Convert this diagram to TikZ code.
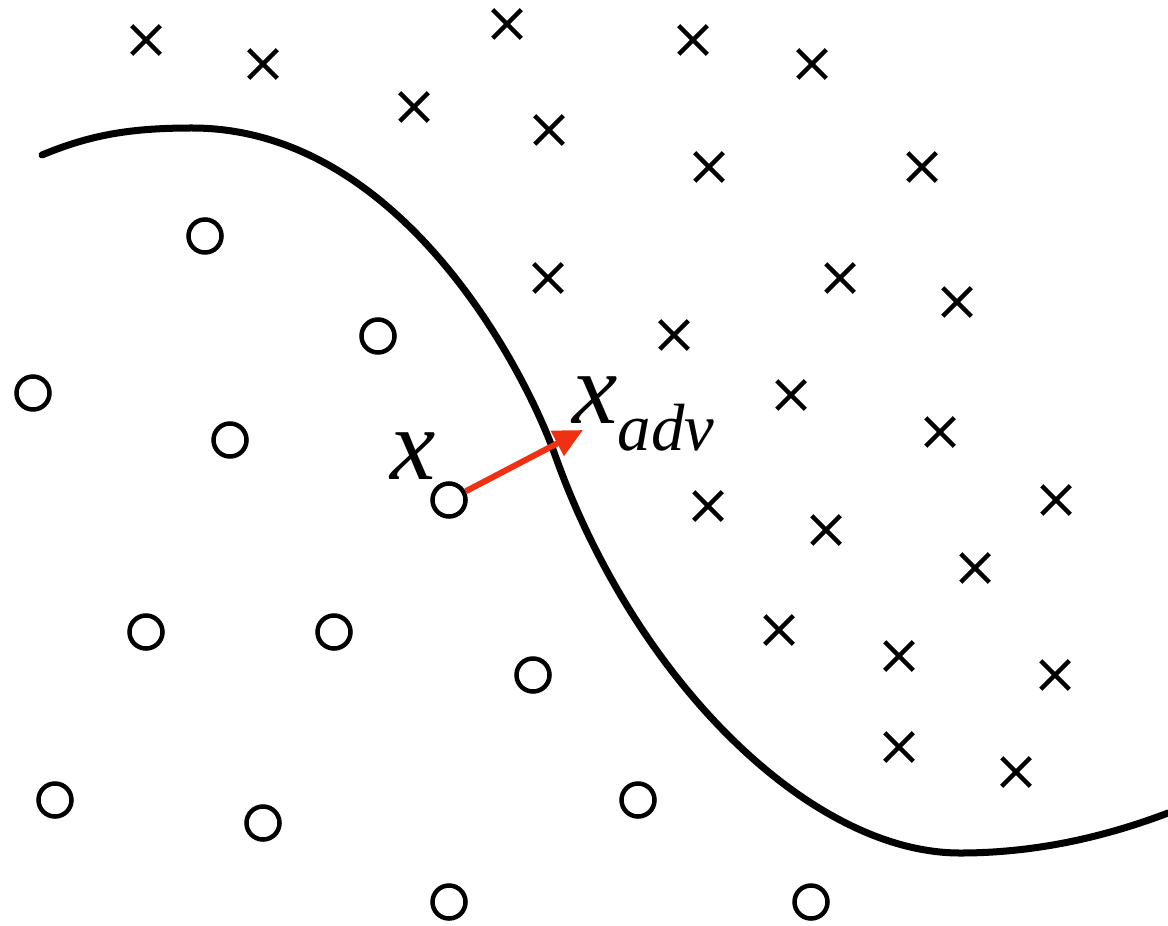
\documentclass[tikz,border=0pt]{standalone}
\usepackage{fontspec}
\setmainfont{Liberation Serif}
\usetikzlibrary{shapes.misc,arrows.meta}
\definecolor{advred}{RGB}{240,48,18}
\begin{document}
\begin{tikzpicture}[x=0.01cm,y=-0.01cm,
  pt/.style={circle,draw=black,line width=0.045cm,minimum size=0.33cm,inner sep=0pt},
  xmark/.style={cross out,draw=black,line width=0.045cm,minimum size=0.24cm,inner sep=0pt},
  boundary/.style={line width=0.07cm,line cap=round},
  advarrow/.style={draw=advred,line width=0.06cm,-{Triangle[length=0.29cm,width=0.27cm]}},
  lbl/.style={inner sep=0pt,font=\fontsize{29}{30}\selectfont\itshape}]
\useasboundingbox (0,0) rectangle (1168,925);
% decision boundary
\draw[boundary] (42,155) .. controls (90,135) and (130,128) .. (192,128)
  .. controls (400,128) and (525,370) .. (555,455)
  .. controls (635,680) and (810,853) .. (960,853)
  .. controls (1040,853) and (1110,835) .. (1168,813);
% circles
\foreach \p [count=\i] in {(205,236),(378,336),(33,393),(230,440),(449,500),(146,632),(334,632),(533,675),(55,800),(263,823),(638,800),(449,902),(811,902)}
  \node[pt] (o\i) at \p {};
% crosses
\foreach \p [count=\i] in {(146,40),(263,64),(507,24),(693,40),(812,64),(414,107),(549,130),(709,167),(922,167),(548,278),(840,278),(957,302),(674,335),(791,395),(940,432),(708,506),(826,530),(1056,500),(975,568),(779,630),(899,656),(1055,675),(899,747),(1016,772)}
  \node[xmark] (c\i) at \p {};
% adversarial arrow
\coordinate (tip) at (583,430);
\draw[advarrow] (o5) -- (tip);
% labels
\node[lbl,anchor=base west] (lx) at (390,479) {x};
\node[lbl,anchor=base west] (lxadv) at (572,423) {x\raisebox{-7.7pt}{\fontsize{19}{20}\selectfont adv}};
\end{tikzpicture}
\end{document}
